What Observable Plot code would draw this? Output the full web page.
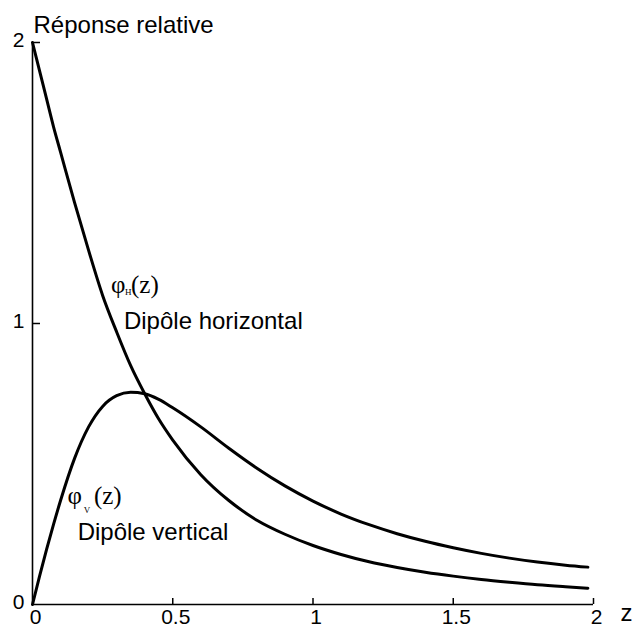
<!DOCTYPE html>
<html>
<head>
<meta charset="utf-8">
<script src="https://cdn.jsdelivr.net/npm/d3@7"></script>
<script src="https://cdn.jsdelivr.net/npm/@observablehq/plot@0.6"></script>
<style>
  body { margin: 0; background: #fff; }
  #chart svg { display: block; }
</style>
</head>
<body>
<div id="chart"></div>
<script>
// ---- data ----
const z    = [0, 0.025, 0.05, 0.075, 0.1, 0.15, 0.2, 0.25, 0.3, 0.35, 0.4, 0.45, 0.5, 0.6, 0.7, 0.8, 0.9, 1.0, 1.1, 1.2, 1.3, 1.4, 1.5, 1.6, 1.7, 1.8, 1.9, 1.98];
const phiH = [2.00, 1.90, 1.80, 1.70, 1.61, 1.43, 1.26, 1.10, 0.97, 0.85, 0.75, 0.66, 0.585, 0.462, 0.37, 0.30, 0.25, 0.21, 0.178, 0.152, 0.132, 0.115, 0.101, 0.089, 0.079, 0.070, 0.063, 0.058];
const phiV = [0, 0.10, 0.195, 0.285, 0.37, 0.52, 0.632, 0.705, 0.743, 0.755, 0.75, 0.73, 0.70, 0.632, 0.556, 0.485, 0.422, 0.368, 0.322, 0.284, 0.252, 0.225, 0.202, 0.182, 0.165, 0.151, 0.140, 0.133];

const xTicks = [0, 0.5, 1, 1.5, 2];
const xTickLabels = ["0", "0.5", "1", "1.5", "2"];
const yTicks = [0, 1, 2];
const yTickLabels = ["0", "1", "2"];
const titleText = "Réponse relative";
const xLabel = "z";

// series labels (anchored in data coordinates)
const seriesLabels = [
  {text: "Dipôle horizontal", z: 0.326, v: 0.982},
  {text: "Dipôle vertical",   z: 0.161, v: 0.228}
];
const phiGlyphs = [
  {text: "φ",   z: 0.28,  v: 1.11},
  {text: "(z)", z: 0.351, v: 1.11},
  {text: "φ",   z: 0.125, v: 0.359},
  {text: "(z)", z: 0.219, v: 0.359}
];
const phiSubs = [
  {text: "H", z: 0.330, v: 1.10},
  {text: "V", z: 0.183, v: 0.327}
];

const rowsH = z.map((d, i) => ({z: d, v: phiH[i]}));
const rowsV = z.map((d, i) => ({z: d, v: phiV[i]}));

const sans = "'Liberation Sans', Arial, Helvetica, sans-serif";
const serif = "'Liberation Serif', 'Times New Roman', serif";

const chart = Plot.plot({
  width: 632,
  height: 627,
  marginLeft: 32,
  marginRight: 39,
  marginTop: 42,
  marginBottom: 23,
  style: {fontFamily: sans, color: "black", background: "white"},
  x: {domain: [0, 2]},
  y: {domain: [0, 2]},
  marks: [
    // axis lines
    Plot.ruleX([0], {strokeWidth: 1.6}),
    Plot.ruleY([0], {strokeWidth: 1.6}),
    // inward ticks (outward ticks shifted back inside the frame)
    Plot.axisX(xTicks.filter(d => d > 0), {tickSize: 6, dy: -6, fill: "none", strokeWidth: 1.5, label: null}),
    Plot.axisY(yTicks.filter(d => d > 0), {tickSize: 8, dx: 8, fill: "none", strokeWidth: 1.5, label: null}),
    // tick labels
    Plot.axisX(xTicks, {tickSize: 0, tickPadding: 5, dx: 3, fontSize: 21, label: null,
      tickFormat: d => xTickLabels[xTicks.indexOf(d)]}),
    Plot.axisY(yTicks, {tickSize: 0, tickPadding: 8, dy: -2, fontSize: 21, label: null,
      tickFormat: d => yTickLabels[yTicks.indexOf(d)]}),
    // curves
    Plot.line(rowsH, {x: "z", y: "v", stroke: "black", strokeWidth: 3, curve: "monotone-x"}),
    Plot.line(rowsV, {x: "z", y: "v", stroke: "black", strokeWidth: 3, curve: "monotone-x"}),
    // annotations
    Plot.text(seriesLabels, {x: "z", y: "v", text: "text", textAnchor: "start", lineAnchor: "bottom",
      fontSize: 24, fontFamily: sans, fill: "black"}),
    Plot.text(phiGlyphs, {x: "z", y: "v", text: "text", textAnchor: "start", lineAnchor: "bottom",
      fontSize: 25, fontFamily: serif, fill: "black"}),
    Plot.text(phiSubs, {x: "z", y: "v", text: "text", textAnchor: "start", lineAnchor: "bottom",
      fontSize: 9, fontFamily: serif, fill: "black"}),
    // title and axis label
    Plot.text([titleText], {frameAnchor: "top-left", dx: 1, dy: -10, textAnchor: "start", lineAnchor: "bottom",
      fontSize: 24, fontFamily: sans, fill: "black"}),
    Plot.text([xLabel], {frameAnchor: "bottom-right", dx: 27, dy: 16, textAnchor: "start", lineAnchor: "bottom",
      fontSize: 24, fontFamily: sans, fill: "black"})
  ]
});
document.getElementById("chart").append(chart);
</script>
</body>
</html>
